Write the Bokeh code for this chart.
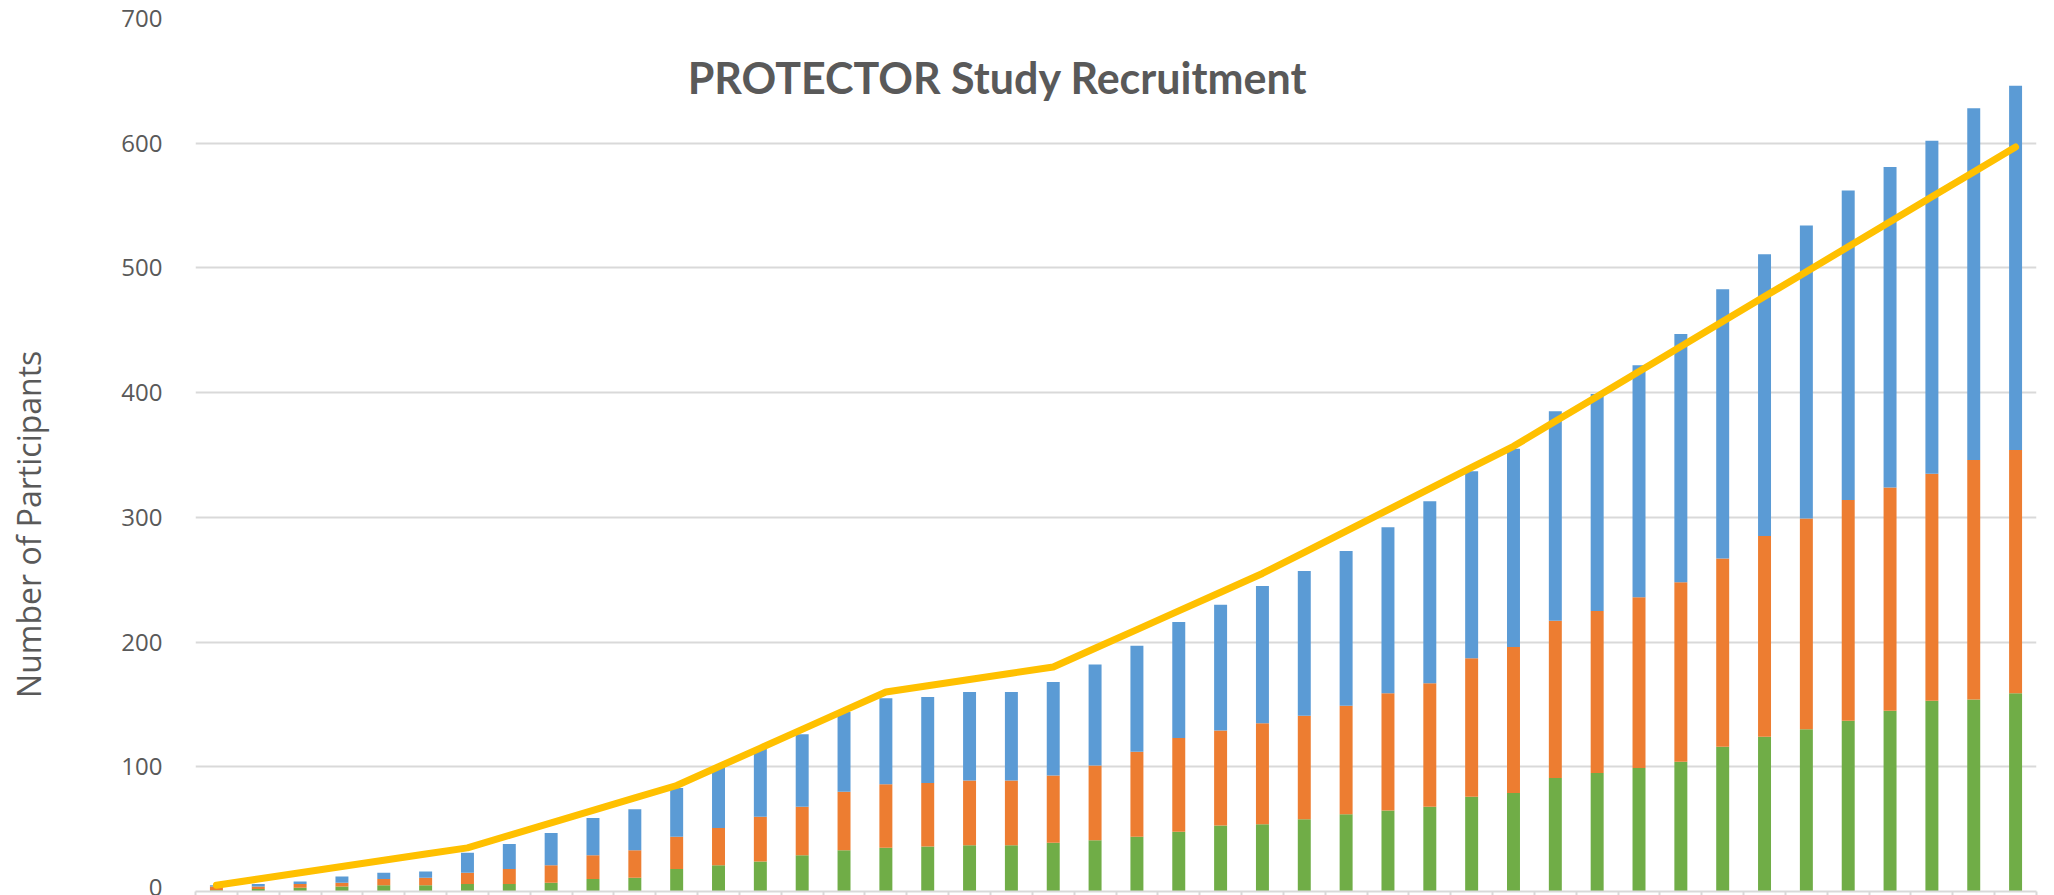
from bokeh.plotting import figure
from bokeh.layouts import row
from bokeh.models import ColumnDataSource, Range1d, FixedTicker, Label
from bokeh.embed import file_html
from bokeh.resources import INLINE
import math

# ---- data ----
categories = [str(i) for i in range(1, 45)]  # x labels are cut off in the reference

series_green = [1, 2, 3, 4, 5, 5, 6, 6, 7, 10, 11, 18, 21, 24, 29, 33, 35, 36, 37, 37, 39, 41,
                44, 48, 53, 54, 58, 62, 65, 68, 76, 79, 91, 95, 99, 104, 116, 124, 130, 137, 145,
                153, 154, 159]
series_orange = [3, 2, 3, 3, 5, 6, 9, 12, 14, 19, 22, 26, 30, 36, 39, 47, 51, 51, 52, 52, 54, 60,
                 68, 75, 76, 81, 83, 87, 94, 99, 111, 117, 126, 130, 137, 144, 151, 161, 169, 177,
                 179, 182, 192, 195]
series_blue = [1, 2, 2, 5, 5, 5, 16, 20, 26, 30, 33, 39, 49, 55, 58, 64, 69, 69, 71, 71, 75, 81,
               85, 93, 101, 110, 116, 124, 133, 146, 150, 159, 168, 174, 186, 199, 216, 226, 235,
               248, 257, 267, 282, 292]
target = [5, 10, 15, 20, 25, 30, 35, 45, 55, 65, 75, 85, 100, 115, 130, 145, 160, 165, 170, 175,
          180, 195, 210, 225, 240, 255, 272, 289, 306, 323, 340, 357, 377, 397, 417, 437, 457,
          477, 497, 517, 537, 557, 577, 597]
y_ticks = [0, 100, 200, 300, 400, 500, 600, 700]

title_text = "PROTECTOR Study Recruitment"
y_label = "Number of Participants"

n = len(categories)
source = ColumnDataSource(dict(
    x=list(range(n)),
    cat=categories,
    green=series_green,
    orange=series_orange,
    blue=series_blue,
    target=target,
))

TEXT = "#595959"
GRID = "#d9d9d9"
LABEL_W = 60

# narrow panel that carries the rotated y-axis title
lab = figure(width=LABEL_W, height=895, output_backend="svg", toolbar_location=None,
             x_range=Range1d(0, 1), y_range=Range1d(0, 1),
             x_axis_location=None, y_axis_location=None, min_border=0)
lab.outline_line_color = None
lab.xgrid.visible = False
lab.ygrid.visible = False
lab.add_layout(Label(x=28 / LABEL_W, y=(895 - 518.5) / 895, text=y_label, angle=math.pi / 2,
                     text_align="center", text_baseline="middle", text_font="Open Sans",
                     text_font_size="32px", text_color=TEXT))

p = figure(width=2054 - LABEL_W, height=895, output_backend="svg", toolbar_location=None,
           x_range=Range1d(-0.5, n - 0.5), y_range=Range1d(0, 700),
           min_border_left=195 - LABEL_W, min_border_right=18, min_border_top=18,
           min_border_bottom=0)
p.outline_line_color = None
p.background_fill_color = "white"
p.border_fill_color = "white"

p.vbar_stack(["green", "orange", "blue"], x="x", width=0.31, source=source,
             color=["#70AD47", "#ED7D31", "#5B9BD5"], line_color=None)
p.line(x="x", y="target", source=source, line_color="#FFC000", line_width=7,
       line_cap="round", line_join="round")

# y axis
p.yaxis.ticker = FixedTicker(ticks=y_ticks)
p.yaxis.axis_line_color = None
p.yaxis.major_tick_line_color = None
p.yaxis.minor_tick_line_color = None
p.yaxis.major_label_text_font = "Open Sans"
p.yaxis.major_label_text_font_size = "24px"
p.yaxis.major_label_text_color = TEXT
p.yaxis.major_label_standoff = 27

# x axis: only boundary tick marks (drawn as minor ticks, so there are no labels)
p.xaxis.ticker = FixedTicker(ticks=[], minor_ticks=[i - 0.5 for i in range(n + 1)])
p.xaxis.axis_line_color = GRID
p.xaxis.axis_line_width = 2
p.xaxis.major_tick_line_color = None
p.xaxis.major_tick_in = 0
p.xaxis.major_tick_out = 3
p.xaxis.minor_tick_line_color = GRID
p.xaxis.minor_tick_line_width = 2
p.xaxis.minor_tick_in = 0
p.xaxis.minor_tick_out = 4
p.xaxis.major_label_standoff = 0

p.xgrid.grid_line_color = None
p.ygrid.grid_line_color = GRID
p.ygrid.grid_line_width = 2

title = Label(x=18.67, y=652.5, text=title_text, text_align="center",
              text_baseline="alphabetic", text_font="Lato", text_font_size="43px",
              text_font_style="bold", text_color=TEXT)
p.add_layout(title)

layout = row(lab, p, spacing=0)
open("out.html", "w").write(file_html(layout, INLINE))
